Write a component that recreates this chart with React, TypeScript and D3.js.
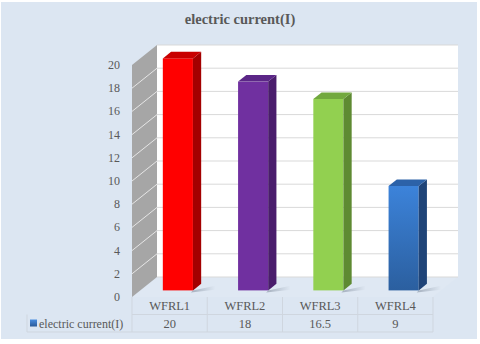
import React from "react";
import * as d3 from "d3";

const categories = ["WFRL1", "WFRL2", "WFRL3", "WFRL4"];
const values = [20, 18, 16.5, 9];
const yTicks = [0, 2, 4, 6, 8, 10, 12, 14, 16, 18, 20];
const seriesName = "electric current(I)";
const title = "electric current(I)";

// front / side / top shades for each bar
const barColors = [
  { front: "#ff0000", side: "#a30000", top: "#c80000" },
  { front: "#7030a0", side: "#4a1d6c", top: "#5b2687" },
  { front: "#92d050", side: "#5e8a32", top: "#72a83e" },
  { front: "#3a7fd4", side: "#1f4478", top: "#2c62a8" },
];

const W = 480;
const H = 344;
const font = "Liberation Serif, Times New Roman, serif";
const textColor = "#595959";

// depth of the 3D box
const DX = 25;
const DY = -20;

export default function App() {
  const x = d3.scaleBand().domain(categories).range([132, 433]).paddingInner(0).paddingOuter(0);
  const y = d3.scaleLinear().domain([0, 20]).range([297, 65]);

  const left = x.range()[0];
  const right = x.range()[1];
  const y0 = y(0);
  const yMax = y(20);

  const pts = (arr: [number, number][]) => arr.map((p) => p.join(",")).join(" ");

  const f0 = 0.33;
  const f1 = 0.66;
  const barW = x.bandwidth() * 0.4;

  const tableTop = y0;
  const rowH = 17.5;
  const labelLeft = 27;

  return (
    <svg width={W} height={H} fontFamily={font} style={{ position: "absolute", left: 0, top: 0 }}>
      <defs>
        <linearGradient id="blueGrad" x1="0" y1="0" x2="0" y2="1">
          <stop offset="0" stopColor="#3c83da" />
          <stop offset="1" stopColor="#2b5f9f" />
        </linearGradient>
        <linearGradient id="keyGrad" x1="0" y1="0" x2="0" y2="1">
          <stop offset="0" stopColor="#4a8ee0" />
          <stop offset="1" stopColor="#2a5a98" />
        </linearGradient>
        <linearGradient id="shadowGrad" x1="0" y1="0" x2="1" y2="0">
          <stop offset="0" stopColor="#8a96a6" stopOpacity="0.7" />
          <stop offset="1" stopColor="#8a96a6" stopOpacity="0" />
        </linearGradient>
      </defs>
      <rect x={1} y={2} width={476} height={337} fill="#dce6f2" />

      <text x={240} y={24} textAnchor="middle" fontSize={14.5} fontWeight="bold" fill={textColor}>
        {title}
      </text>

      {/* floor */}
      <polygon
        points={pts([[left, y0], [right, y0], [right + DX, y0 + DY], [left + DX, y0 + DY]])}
        fill="#dfe8f3"
      />
      {/* back wall */}
      <rect x={left + DX} y={yMax + DY} width={right - left} height={y0 - yMax} fill="#ffffff" />
      {/* side wall */}
      <polygon
        points={pts([[left, y0], [left + DX, y0 + DY], [left + DX, yMax + DY], [left, yMax]])}
        fill="#a6a6a6"
      />

      {yTicks.map((t) => (
        <g key={t}>
          <line x1={left + DX} x2={right + DX} y1={y(t) + DY} y2={y(t) + DY} stroke="#d9d9d9" strokeWidth={1} />
          {t > 0 && t < 20 && (
            <line x1={left} x2={left + DX} y1={y(t)} y2={y(t) + DY} stroke="#e6e6e6" strokeWidth={1} />
          )}
          <text x={120} y={y(t) + 4} textAnchor="end" fontSize={12} fill={textColor}>
            {t}
          </text>
        </g>
      ))}

      {categories.map((c, i) => {
        const v = values[i];
        const cx = (x(c) as number) + x.bandwidth() / 2;
        const fx = cx - barW / 2 + DX * f0;
        const fy = DY * f0;
        const bx = DX * (f1 - f0);
        const by = DY * (f1 - f0);
        const top = y(v) + fy;
        const bot = y0 + fy;
        const col = barColors[i];
        const frontFill = i === 3 ? "url(#blueGrad)" : col.front;
        return (
          <g key={c}>
            <polygon
              points={pts([[fx + barW, bot], [fx + barW + bx + 14, bot + by + 2], [fx + barW + bx + 14, bot + by + 6], [fx + barW - 2, bot + 2]])}
              fill="url(#shadowGrad)"
            />
            <rect x={fx} y={top} width={barW} height={bot - top} fill={frontFill} />
            <polygon
              points={pts([[fx + barW, top], [fx + barW + bx, top + by], [fx + barW + bx, bot + by], [fx + barW, bot]])}
              fill={col.side}
            />
            <polygon
              points={pts([[fx, top], [fx + bx, top + by], [fx + barW + bx, top + by], [fx + barW, top]])}
              fill={col.top}
            />
          </g>
        );
      })}

      {/* data table */}
      <g stroke="#cfd6df" strokeWidth={1} fill="none">
        <line x1={left} x2={right} y1={tableTop + rowH} y2={tableTop + rowH} />
        <line x1={labelLeft} x2={right} y1={tableTop + rowH * 2} y2={tableTop + rowH * 2} />
        <line x1={labelLeft} x2={labelLeft} y1={tableTop + rowH} y2={tableTop + rowH * 2} />
        <line x1={left} x2={left} y1={tableTop} y2={tableTop + rowH * 2} />
        {categories.map((c) => (
          <line key={c} x1={(x(c) as number) + x.bandwidth()} x2={(x(c) as number) + x.bandwidth()} y1={tableTop} y2={tableTop + rowH * 2} />
        ))}
      </g>
      {categories.map((c, i) => {
        const cx = (x(c) as number) + x.bandwidth() / 2;
        return (
          <g key={c} fontSize={12.5} fill={textColor} textAnchor="middle">
            <text x={cx} y={tableTop + 13}>{c}</text>
            <text x={cx} y={tableTop + rowH + 13}>{values[i]}</text>
          </g>
        );
      })}
      <rect x={30} y={tableTop + rowH + 5} width={7} height={7} fill="url(#keyGrad)" />
      <text x={39} y={tableTop + rowH + 13} fontSize={12} fill={textColor}>
        {seriesName}
      </text>
    </svg>
  );
}
